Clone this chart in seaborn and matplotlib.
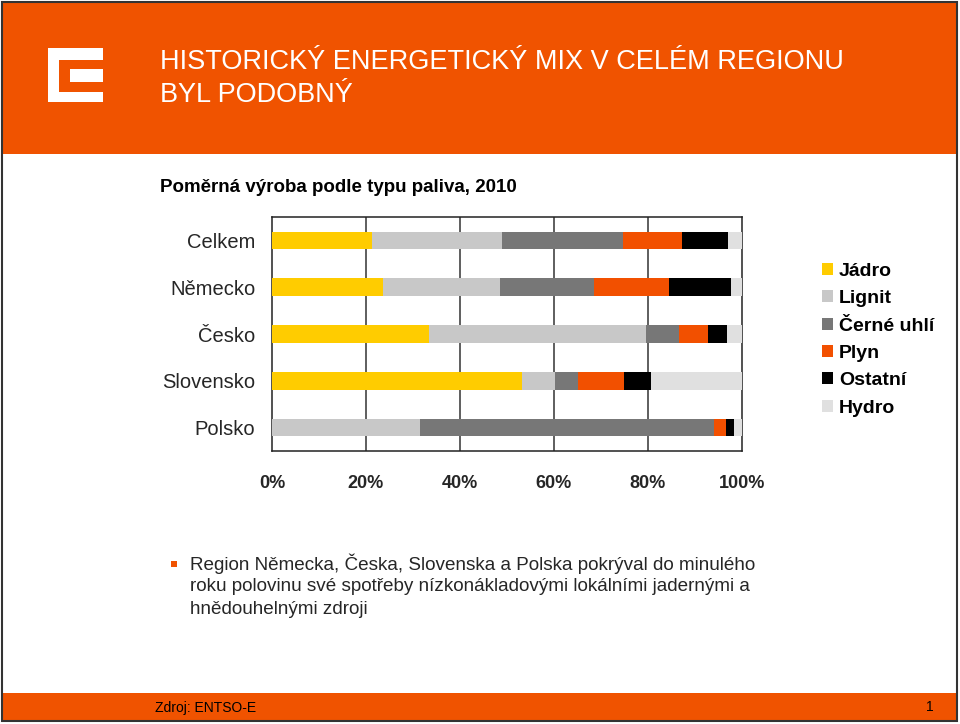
import matplotlib
matplotlib.use("Agg")
import matplotlib.pyplot as plt
from matplotlib.patches import Rectangle, Patch
import seaborn as sns
import pandas as pd
import numpy as np

# ---- data ----
categories = ["Celkem", "Německo", "Česko", "Slovensko", "Polsko"]
series_names = ["Jádro", "Lignit", "Černé uhlí", "Plyn", "Ostatní", "Hydro"]
jadro = [21.2, 23.6, 33.4, 53.2, 0.0]
lignit = [27.8, 24.9, 46.1, 7.1, 31.4]
cerne_uhli = [25.7, 20.1, 7.2, 4.9, 62.6]
plyn = [12.6, 15.9, 6.0, 9.7, 2.7]
ostatni = [9.7, 13.2, 4.1, 5.7, 1.5]
hydro = [3.0, 2.3, 3.2, 19.4, 1.8]
x_ticks = [0, 20, 40, 60, 80, 100]
x_tick_labels = ["0%", "20%", "40%", "60%", "80%", "100%"]

colors = ["#FFCC00", "#C8C8C8", "#777777", "#F25000", "#000000", "#E0E0E0"]
ORANGE = "#F05300"

sns.set_style("white")
plt.rcParams["font.family"] = ["Liberation Sans", "DejaVu Sans"]

W, H = 960, 724
fig = plt.figure(figsize=(W / 100, H / 100), dpi=100)
fig.patch.set_facecolor("white")


def fx(x):
    return x / W


def fy(y):
    return 1 - y / H


def frect(x0, y0, x1, y1, **kw):
    fig.add_artist(Rectangle((fx(x0), fy(y1)), fx(x1) - fx(x0), fy(y0) - fy(y1),
                             transform=fig.transFigure, **kw))


# header
frect(3, 3, 956, 154, facecolor=ORANGE, edgecolor="none", zorder=0)
# logo
frect(48.3, 48.3, 102.7, 102.3, facecolor="white", edgecolor="none", zorder=1)
frect(59.3, 59.7, 102.8, 91.7, facecolor=ORANGE, edgecolor="none", zorder=2)
frect(70, 69.3, 102.7, 81.7, facecolor="white", edgecolor="none", zorder=3)

fig.text(fx(160), fy(62), "HISTORICKÝ ENERGETICKÝ MIX V CELÉM REGIONU",
         color="white", fontsize=19.5, va="center", ha="left")
fig.text(fx(160), fy(95), "BYL PODOBNÝ",
         color="white", fontsize=19.5, va="center", ha="left")

fig.text(fx(160), fy(187), "Poměrná výroba podle typu paliva, 2010",
         color="black", fontsize=13.5, fontweight="bold", va="center", ha="left")

# footer
frect(3, 693, 956, 720, facecolor=ORANGE, edgecolor="none", zorder=0)
fig.text(fx(155), fy(708), "Zdroj: ENTSO-E", fontsize=10, color="black",
         va="center", ha="left")
fig.text(fx(934), fy(707), "1", fontsize=10, color="black",
         va="center", ha="right")

# slide border
frect(2, 2, 957, 721, facecolor="none", edgecolor="#333333", linewidth=1.5, zorder=10)

# ---- chart ----
ax = fig.add_axes([fx(272), fy(451), fx(742) - fx(272), fy(217) - fy(451)])
df = pd.DataFrame({"Kategorie": categories})
series = [jadro, lignit, cerne_uhli, plyn, ostatni, hydro]
cum = np.cumsum(np.array(series), axis=0)
for i in range(len(series) - 1, -1, -1):
    df["v"] = cum[i]
    sns.barplot(data=df, x="v", y="Kategorie", orient="h", color=colors[i],
                width=0.38, ax=ax, saturation=1, linewidth=0, zorder=3)

ax.set_xlim(0, 100)
ax.set_ylim(4.5, -0.5)
ax.set_xticks(x_ticks)
ax.set_xticklabels(x_tick_labels, fontsize=13, fontweight="bold")
ax.tick_params(axis="x", length=0, pad=17)
ax.tick_params(axis="y", length=0, pad=12, labelsize=14.5)
ax.set_xlabel("")
ax.set_ylabel("")
for x in x_ticks[1:-1]:
    ax.axvline(x, color="#333333", linewidth=1.1, zorder=1)
for s in ax.spines.values():
    s.set_visible(True)
    s.set_color("#222222")
    s.set_linewidth(1.1)

handles = [Patch(facecolor=c, edgecolor="none") for c in colors]
leg = fig.legend(handles, series_names, loc="upper left",
                 bbox_to_anchor=(fx(822), fy(263)), frameon=False,
                 prop={"size": 14, "weight": "bold"}, handlelength=0.57,
                 handleheight=0.57, handletextpad=0.3, labelspacing=0.53,
                 borderpad=0, borderaxespad=0)
for t in leg.get_texts():
    t.set_color("black")

# bullet text
frect(171, 561, 176.5, 567, facecolor=ORANGE, edgecolor="none")
bullet_lines = ["Region Německa, Česka, Slovenska a Polska pokrýval do minulého",
                "roku polovinu své spotřeby nízkonákladovými lokálními jadernými a",
                "hnědouhelnými zdroji"]
for k, line in enumerate(bullet_lines):
    fig.text(fx(190), fy(564 + 22.5 * k), line, fontsize=13.6, va="center", ha="left")

fig.savefig("out.png", dpi=100)
